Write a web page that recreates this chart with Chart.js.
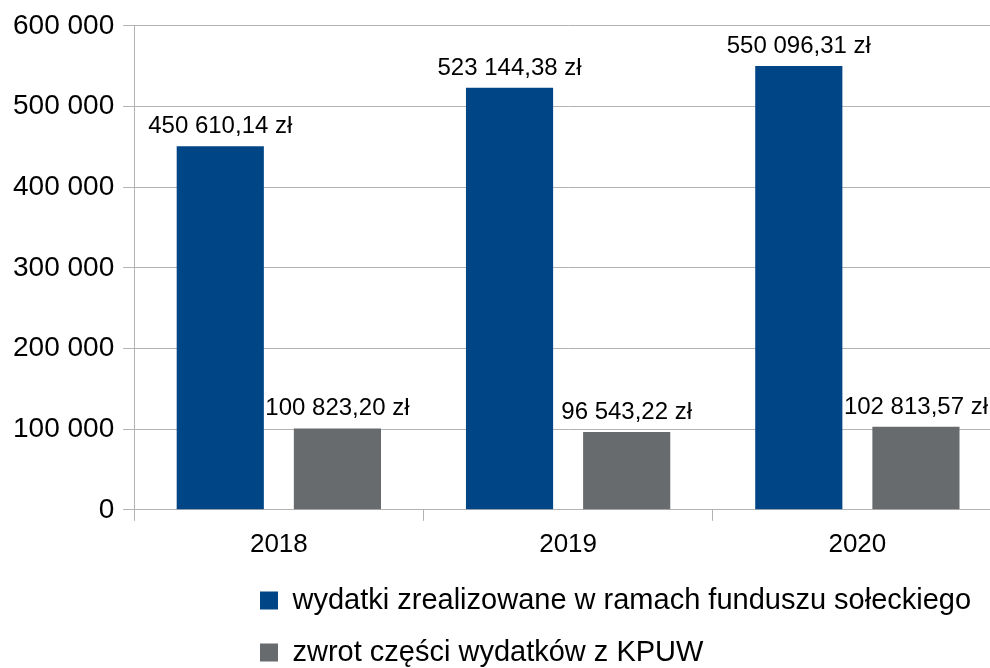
<!DOCTYPE html>
<html>
<head>
<meta charset="utf-8">
<script src="https://cdn.jsdelivr.net/npm/chart.js@4/dist/chart.umd.min.js"></script>
<style>
  html, body { margin: 0; padding: 0; background: #fff; overflow: hidden; }
  #wrap { width: 1003px; height: 668px; position: relative; }
</style>
</head>
<body>
<div id="wrap"><canvas id="bar_chart"></canvas></div>
<script>
var years = ['2018', '2019', '2020'];
var seriesNames = ['wydatki zrealizowane w ramach funduszu sołeckiego', 'zwrot części wydatków z KPUW'];
var funduszValues = [450610.14, 523144.38, 550096.31];
var kpuwValues = [100823.20, 96543.22, 102813.57];
var yTicks = [0, 100000, 200000, 300000, 400000, 500000, 600000];

var FONT = '"Liberation Sans", Arial, sans-serif';
var axisSqueeze = 14;
var legendDy = 9;

function groupThousands(s) {
  return s.replace(/\B(?=(\d{3})+(?!\d))/g, ' ');
}

function formatZl(v) {
  var parts = v.toFixed(2).split('.');
  return groupThousands(parts[0]) + ',' + parts[1] + ' zł';
}

// values above the bars
var barLabels = {
  id: 'barLabels',
  afterDatasetsDraw: function(chart) {
    var ctx = chart.ctx;
    ctx.save();
    ctx.font = '24px ' + FONT;
    ctx.fillStyle = '#000';
    ctx.textAlign = 'center';
    ctx.textBaseline = 'alphabetic';
    chart.data.datasets.forEach(function(ds, i) {
      chart.getDatasetMeta(i).data.forEach(function(bar, j) {
        ctx.fillText(formatZl(ds.data[j]), bar.x, bar.y - 13);
      });
    });
    ctx.restore();
  }
};

// legend sits left-aligned under the plot, not at the canvas edge
var legendShift = {
  id: 'legendShift',
  afterLayout: function(chart) {
    var lg = chart.legend;
    var pad = lg.options.labels.padding;
    var w = lg.right - lg.left;
    lg.left = 260 - pad;
    lg.right = lg.left + w;
    lg.top += legendDy;
    lg.bottom += legendDy;
    // give the x labels their room back so they are not clipped
    chart.scales.x.bottom += axisSqueeze;
  }
};

var config = {
  type: 'bar',
  data: {
    labels: years,
    datasets: [{
      label: seriesNames[0],
      data: funduszValues,
      backgroundColor: '#004586',
      categoryPercentage: 0.81,
      barPercentage: 0.744
    }, {
      label: seriesNames[1],
      data: kpuwValues,
      backgroundColor: '#686b6e',
      categoryPercentage: 0.81,
      barPercentage: 0.744
    }]
  },
  options: {
    responsive: true,
    maintainAspectRatio: false,
    animation: false,
    layout: { padding: { left: 4, right: 1, top: 12, bottom: 0 } },
    plugins: {
      legend: {
        position: 'bottom',
        align: 'start',
        labels: {
          boxWidth: 18,
          boxHeight: 18,
          padding: 23,
          color: '#000',
          font: { family: FONT, size: 29 }
        }
      },
      tooltip: { enabled: false }
    },
    scales: {
      x: {
        afterFit: function(axis) { axis.height -= axisSqueeze; },
        grid: {
          display: true,
          offset: true,
          drawOnChartArea: false,
          tickLength: 11,
          color: '#b3b3b3'
        },
        border: { color: '#b3b3b3' },
        ticks: {
          color: '#000',
          padding: 8,
          font: { family: FONT, size: 26 }
        }
      },
      y: {
        min: 0,
        max: 600000,
        afterBuildTicks: function(axis) {
          axis.ticks = yTicks.map(function(v) { return { value: v }; });
        },
        grid: {
          color: '#b3b3b3',
          tickLength: 11
        },
        border: { color: '#b3b3b3' },
        ticks: {
          color: '#000',
          padding: 9,
          font: { family: FONT, size: 28 },
          callback: function(v) { return groupThousands(String(v)); }
        }
      }
    }
  },
  plugins: [barLabels, legendShift]
};

var chartBar = new Chart(document.getElementById('bar_chart').getContext('2d'), config);
</script>
</body>
</html>
